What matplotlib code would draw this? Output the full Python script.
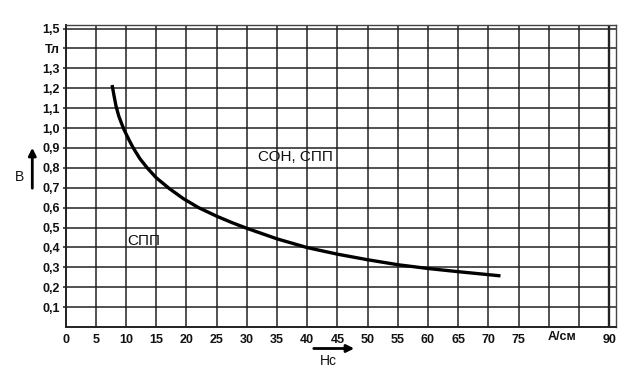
import matplotlib
matplotlib.use("Agg")
import matplotlib.pyplot as plt

# Data
H = [7.7, 8.0, 8.35, 8.8, 9.3, 9.7, 10.5, 11.2, 12.3, 13.5, 15.0, 17.2, 19.5, 22.0, 25.0, 27.5, 30.0, 35.0, 40.0, 45.0, 50.0, 55.0, 60.0, 65.0, 70.0, 72.0]
B = [1.216, 1.165, 1.11, 1.06, 1.02, 0.99, 0.94, 0.9, 0.846, 0.8, 0.75, 0.695, 0.645, 0.6, 0.557, 0.525, 0.496, 0.443, 0.399, 0.366, 0.338, 0.313, 0.294, 0.278, 0.263, 0.257]

x_ticks = [0, 5, 10, 15, 20, 25, 30, 35, 40, 45, 50, 55, 60, 65, 70, 75, 80, 85, 90]
x_labels = ["0", "5", "10", "15", "20", "25", "30", "35", "40", "45", "50", "55", "60", "65", "70", "75", "", "", "90"]
y_ticks = [0.1, 0.2, 0.3, 0.4, 0.5, 0.6, 0.7, 0.8, 0.9, 1.0, 1.1, 1.2, 1.3, 1.4, 1.5]
y_labels = ["0,1", "0,2", "0,3", "0,4", "0,5", "0,6", "0,7", "0,8", "0,9", "1,0", "1,1", "1,2", "1,3", "Тл", "1,5"]

plt.rcParams['font.family'] = ['Liberation Sans', 'DejaVu Sans']

fig = plt.figure(figsize=(6.36, 3.74), dpi=100)
ax = fig.add_axes([65.6/636, 1-327/374, (616-65.6)/636, (327-25)/374])
ax.set_xlim(0, (616-65.6)/6.04)
ax.set_ylim(0, (327-25)/199.0)

gc = '#222222'
for xv in x_ticks:
    ax.axvline(xv, color=gc, lw=1.1 if xv != 90 else 1.7, zorder=1)
for yv in y_ticks:
    ax.axhline(yv, color=gc, lw=1.1, zorder=1)

ax.plot(H, B, color='black', lw=2.4, solid_capstyle='butt', solid_joinstyle='round', zorder=3)

ax.set_xticks(x_ticks)
ax.set_xticklabels(x_labels, fontsize=9, fontweight='bold', color='#111111')
ax.set_yticks(y_ticks)
ax.set_yticklabels(y_labels, fontsize=9, fontweight='bold', color='#111111')
ax.tick_params(axis='x', length=0, pad=5)
ax.tick_params(axis='y', length=2, width=1.1, color=gc, pad=2)
for s in ax.spines.values():
    s.set_color('#444444')
    s.set_linewidth(1.0)
ax.spines['left'].set_linewidth(1.4)
ax.spines['left'].set_color(gc)
ax.spines['bottom'].set_linewidth(1.4)
ax.spines['bottom'].set_color(gc)

# extra axis text
fig.text(562/636, 1-337/374, "А/см", ha='center', va='center', fontsize=9, fontweight='bold', color='#111111')
fig.text(328/636, 1-361/374, "Нс", ha='center', va='center', fontsize=10, color='#111111')
fig.text(19/636, 1-177/374, "В", ha='center', va='center', fontsize=10, color='#111111')
fig.patches.append(matplotlib.patches.FancyArrowPatch((311/636, 1-348.5/374), (357/636, 1-348.5/374),
                   transform=fig.transFigure, arrowstyle='-|>', mutation_scale=11, lw=2.0, color='black'))
fig.patches.append(matplotlib.patches.FancyArrowPatch((32.3/636, 1-191/374), (32.3/636, 1-145/374),
                   transform=fig.transFigure, arrowstyle='-|>', mutation_scale=11, lw=2.0, color='black'))

ax.text(38.0, 0.856, "СОН, СПП", ha='center', va='center', fontsize=11, color='#111111', zorder=4)
ax.text(13.0, 0.43, "СПП", ha='center', va='center', fontsize=11, color='#111111', zorder=4)

fig.savefig("out.png", dpi=100)
